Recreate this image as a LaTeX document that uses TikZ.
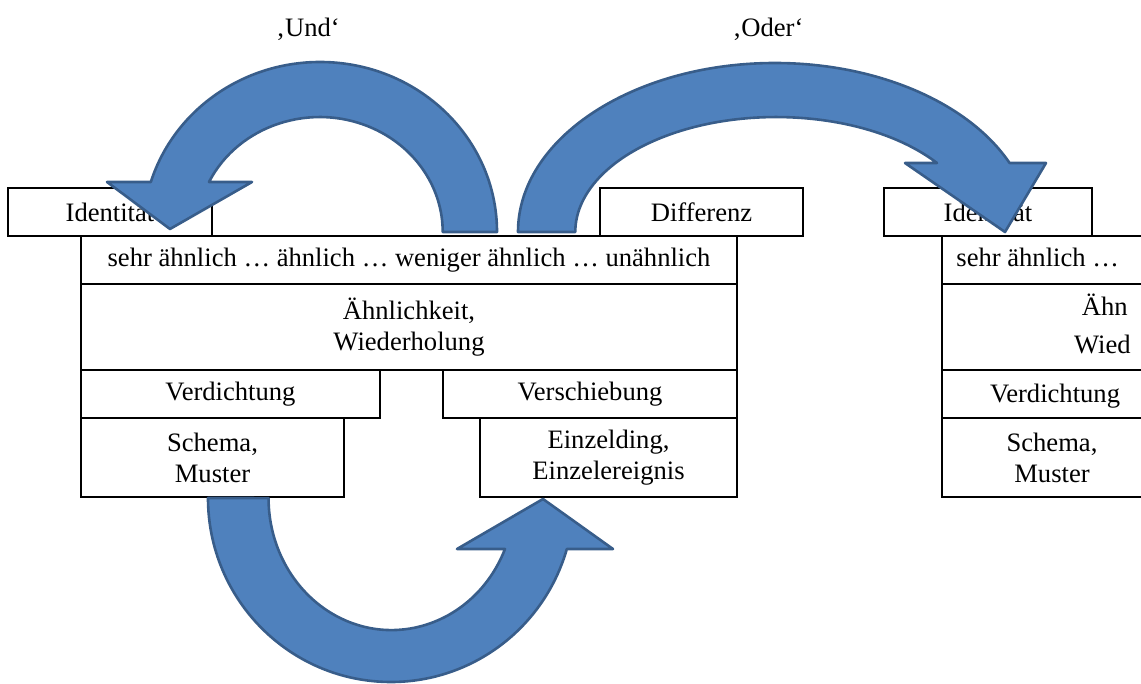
\documentclass[tikz,border=0pt]{standalone}
\usepackage{fontspec}
\setmainfont{Liberation Serif}
\usepackage{tikz}
\usetikzlibrary{positioning}
\definecolor{arrowblue}{HTML}{4F81BD}
\definecolor{arrowedge}{HTML}{385D8A}
\newcommand{\cellfont}{\fontsize{13.3pt}{15.5pt}\selectfont}
\tikzset{
  % --- nodes
  cell/.style  = {draw=black, line width=1pt, inner sep=0pt, align=center, font=\cellfont},
  rowR/.style  = {draw=black, line width=1pt, inner sep=0pt, anchor=west},
  txt/.style   = {inner sep=0pt, align=center, font=\cellfont},
  lbl/.style   = {inner sep=0pt, anchor=base, font=\cellfont},
  % --- block arrows
  bigarrow/.style = {fill=arrowblue, draw=arrowedge, line width=1.3pt, line join=round},
}
\begin{document}
\begin{tikzpicture}[x=0.5pt, y=-0.5pt]
  \clip (0,0) rectangle (1141,684);

  % left scheme
  \node[cell, minimum width=102pt, minimum height=24pt] (idL) at (110,212) {Identität};
  \node[cell, minimum width=101.5pt, minimum height=24pt] (diff) at (701.5,212) {Differenz};
  \node[cell, minimum width=328pt, minimum height=24pt] (scale) at (409,260)
    {sehr ähnlich … ähnlich … weniger ähnlich … unähnlich};
  \node[cell, minimum width=328pt, minimum height=43pt] (sim) at (409,327)
    {Ähnlichkeit,\\Wiederholung};
  \node[cell, minimum width=149.5pt, minimum height=24pt] (verd) at (230.5,394) {Verdichtung};
  \node[cell, minimum width=147pt, minimum height=24pt] (versch) at (590,394) {Verschiebung};
  \node[cell, minimum width=131.5pt, minimum height=39.5pt] (schema) at (212.5,457.5)
    {Schema,\\Muster};
  \node[cell, minimum width=128.5pt, minimum height=39.5pt] (einzel) at (608.5,457.5)
    {Einzelding,\\Einzelereignis};

  % right scheme, cut at the edge
  \node[cell, minimum width=104pt, minimum height=24pt] (idR) at (988,212) {Identität};
  \node[rowR, minimum width=130pt, minimum height=24pt] (scaleR)  at (941,260) {};
  \node[rowR, minimum width=130pt, minimum height=43pt] (simR)    at (941,327) {};
  \node[rowR, minimum width=130pt, minimum height=24pt] (verdR)   at (941,394) {};
  \node[rowR, minimum width=130pt, minimum height=39.5pt] (schemaR) at (941,457.5) {};
  \node[txt, anchor=base west] (scaleRt) at (956,267) {sehr ähnlich …};
  \node[txt, anchor=base east] (ahnR)  at (1128,316) {Ähn};
  \node[txt, anchor=base east] (wiedR) at (1131,354) {Wied};
  \node[txt, anchor=base] (verdRt) at (1055,402) {Verdichtung};
  \node[txt] (schemaRt) at (1052,457.5) {Schema,\\Muster};

  % labels
  \node[lbl] (und)  at (308,37) {‚Und‘};
  \node[lbl] (oder) at (768,37) {‚Oder‘};

  % block arrows
  \draw[bigarrow] (497,232) arc[start angle=0, end angle=-162.9, x radius=177, y radius=170]
    -- (107,182) -- (170,229) -- (252,182) -- (209,182)
    arc[start angle=-154.2, end angle=0, x radius=123, y radius=115] -- cycle;
  \draw[bigarrow] (518,232) arc[start angle=180, end angle=335.9, x radius=257, y radius=169]
    -- (1046,163) -- (1005,232) -- (905,163) -- (937,163)
    arc[start angle=323.1, end angle=180, x radius=201, y radius=115] -- cycle;
  \draw[bigarrow] (208,498) arc[start angle=180, end angle=16.1, x radius=183, y radius=184]
    -- (613,549) -- (543,499) -- (457,549) -- (505,549)
    arc[start angle=22.7, end angle=180, x radius=123, y radius=132] -- cycle;
\end{tikzpicture}
\end{document}
